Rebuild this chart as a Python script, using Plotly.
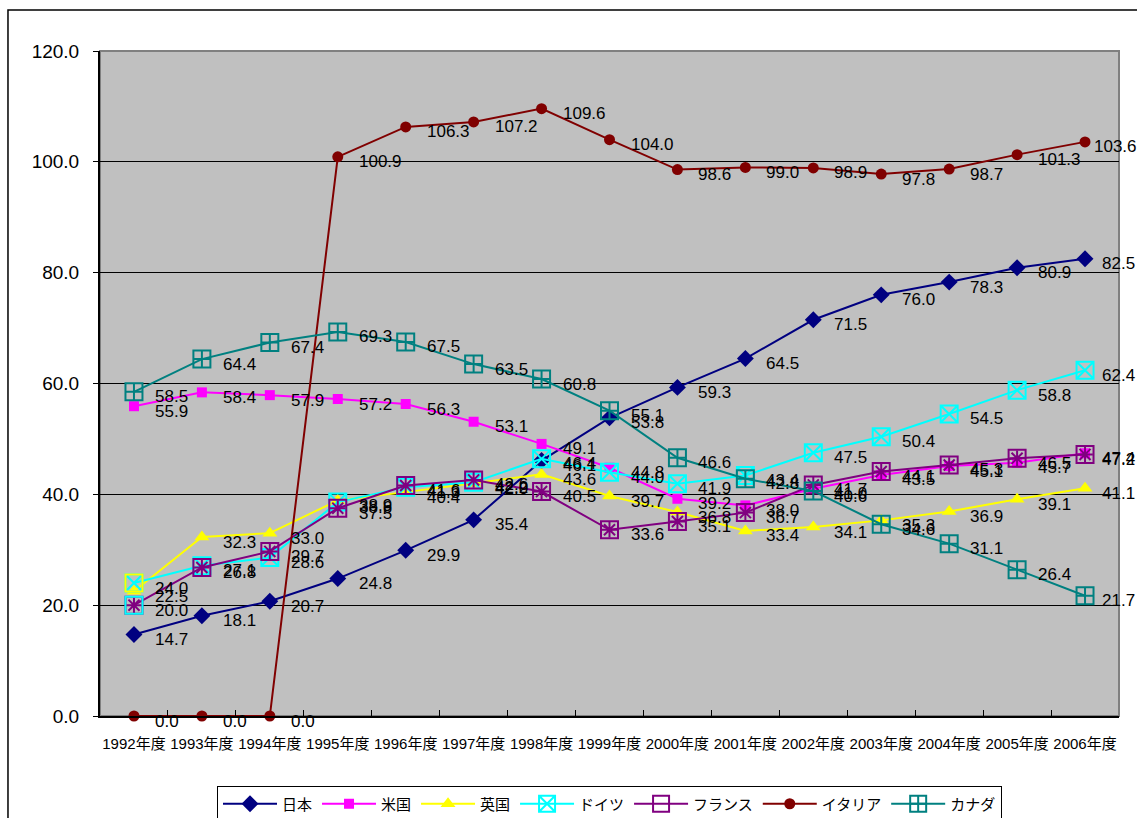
import plotly.graph_objects as go

# Fiscal years on the category axis
years = [f"{y}年度" for y in range(1992, 2007)]

japan   = [14.7, 18.1, 20.7, 24.8, 29.9, 35.4, 46.1, 53.8, 59.3, 64.5, 71.5, 76.0, 78.3, 80.9, 82.5]
usa     = [55.9, 58.4, 57.9, 57.2, 56.3, 53.1, 49.1, 44.8, 39.2, 38.0, 41.0, 43.5, 45.1, 45.7, 47.4]
uk      = [22.5, 32.3, 33.0, 38.9, 40.4, 42.0, 43.6, 39.7, 36.8, 33.4, 34.1, 35.3, 36.9, 39.1, 41.1]
germany = [24.0, 27.1, 28.6, 38.6, 41.3, 42.2, 46.4, 44.0, 41.9, 43.4, 47.5, 50.4, 54.5, 58.8, 62.4]
france  = [20.0, 26.8, 29.7, 37.5, 41.6, 42.6, 40.5, 33.6, 35.1, 36.7, 41.7, 44.1, 45.3, 46.5, 47.2]
italy   = [0.0, 0.0, 0.0, 100.9, 106.3, 107.2, 109.6, 104.0, 98.6, 99.0, 98.9, 97.8, 98.7, 101.3, 103.6]
canada  = [58.5, 64.4, 67.4, 69.3, 67.5, 63.5, 60.8, 55.1, 46.6, 42.8, 40.6, 34.6, 31.1, 26.4, 21.7]

series = [
    ("日本",   japan,   "#000080", "diamond",           13, 0),
    ("米国",   usa,     "#FF00FF", "square",            10, 0),
    ("英国",   uk,      "#FFFF00", "triangle-up",       13, 0),
    ("ドイツ", germany, "#00FFFF", "square-x-open",     17, 2),
    ("フランス", france, "#800080", "square-open",      17, 2),
    ("イタリア", italy,  "#800000", "circle",           11, 0),
    ("カナダ", canada,  "#008080", "square-cross-open", 17, 2),
]

LABEL_FONT = dict(family="Liberation Sans, Arial, sans-serif", size=17, color="black")

fig = go.Figure()
annotations = []
last = len(years) - 1
for name, vals, color, symbol, size, lw in series:
    marker = dict(symbol=symbol, size=size, color=color,
                  line=dict(width=lw, color=color))
    fig.add_trace(go.Scatter(
        x=years, y=vals, name=name, mode="lines+markers", cliponaxis=False,
        line=dict(color=color, width=2), marker=marker,
    ))
    if name == "フランス":
        # asterisk drawn inside the open square
        fig.add_trace(go.Scatter(
            x=years, y=vals, mode="markers", showlegend=False, hoverinfo="skip",
            cliponaxis=False,
            marker=dict(symbol="asterisk-open", size=13, color=color,
                        line=dict(width=2, color=color)),
        ))
    for i, (x, v) in enumerate(zip(years, vals)):
        txt = f"{v:.1f}"
        shift = 19
        if i == last:
            # keep the final labels inside the chart border
            shift = 15 if len(txt) <= 4 else 7
        annotations.append(dict(
            x=x, y=v, xref="x", yref="y", text=txt, showarrow=False,
            xanchor="left", yanchor="middle", xshift=shift, yshift=-5, font=LABEL_FONT,
        ))

# first-year box outlines of ドイツ / フランス appear with swapped colours
fig.add_trace(go.Scatter(
    x=[years[0], years[0]], y=[germany[0], france[0]], mode="markers",
    showlegend=False, hoverinfo="skip", cliponaxis=False,
    marker=dict(symbol="square-open", size=17, color=["#FFFF00", "#00FFFF"],
                line=dict(width=2, color=["#FFFF00", "#00FFFF"])),
))

shapes = [
    # grey frame of the plot area (top and right edges)
    dict(type="rect", xref="paper", yref="paper", x0=0, x1=1, y0=0, y1=1,
         line=dict(color="#808080", width=2), layer="below"),
    # outer chart border
    dict(type="rect", xref="paper", yref="paper",
         x0=-0.0903, x1=1.03, y0=-0.2, y1=1.0617,
         line=dict(color="black", width=1.5), layer="below"),
]

fig.update_layout(
    width=1137, height=818,
    margin=dict(l=100, r=18, t=51, b=102, autoexpand=False),
    paper_bgcolor="white",
    plot_bgcolor="#C0C0C0",
    font=dict(family="Liberation Sans, Arial, Noto Sans CJK JP, sans-serif", color="black"),
    showlegend=True,
    legend=dict(
        orientation="h", x=0.5, xanchor="center", y=-0.106, yanchor="top",
        bordercolor="black", borderwidth=1, bgcolor="white",
        font=dict(family="Liberation Sans, Noto Sans CJK JP, sans-serif", size=15),
        itemwidth=54, tracegroupgap=0,
    ),
    annotations=annotations,
    shapes=shapes,
)

fig.update_xaxes(
    type="category", range=[-0.5, 14.5], automargin=False, tickangle=0,
    showline=True, linecolor="black", linewidth=2,
    ticks="inside", tickson="boundaries", ticklen=6, tickcolor="black", tickwidth=1,
    showgrid=False, zeroline=False,
    tickfont=dict(family="Liberation Sans, Noto Sans CJK JP, sans-serif", size=15),
    ticklabelstandoff=13,
)
fig.update_yaxes(
    range=[0, 120], dtick=20, tickformat=".1f", automargin=False,
    showline=True, linecolor="black", linewidth=2,
    ticks="outside", ticklen=5, tickcolor="black",
    showgrid=True, gridcolor="black", gridwidth=1, zeroline=False,
    tickfont=dict(family="Liberation Sans, Arial, sans-serif", size=19),
    ticklabelstandoff=10,
)

fig.write_html("out.html")
